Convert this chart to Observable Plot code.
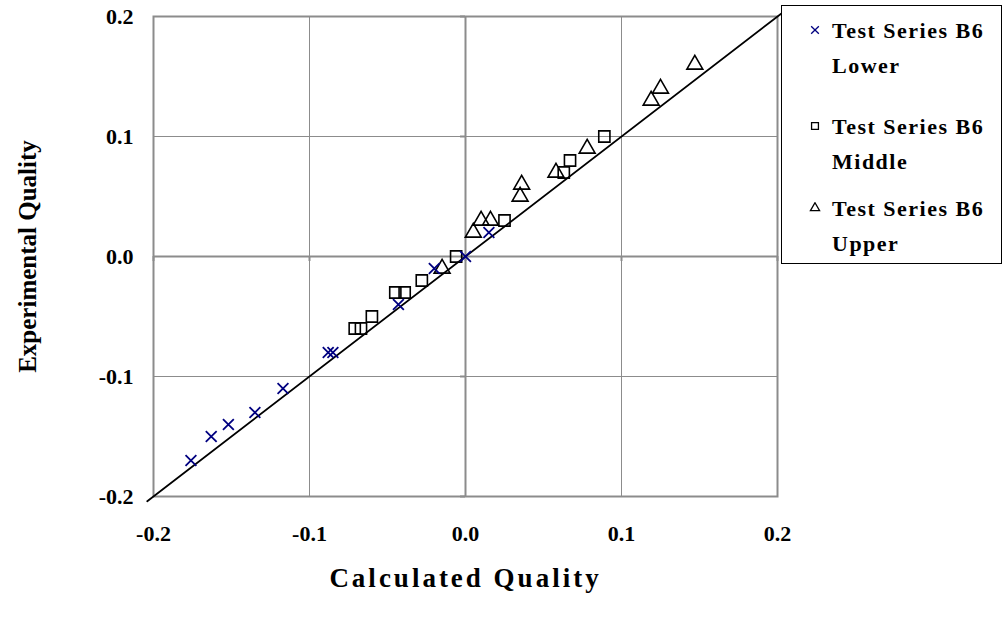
<!DOCTYPE html>
<html>
<head>
<meta charset="utf-8">
<script src="https://cdn.jsdelivr.net/npm/d3@7"></script>
<script src="https://cdn.jsdelivr.net/npm/@observablehq/plot@0.6"></script>
<style>
  html, body { margin: 0; padding: 0; background: #fff; }
  #wrap { position: relative; width: 1005px; height: 621px; font-family: "Liberation Serif", "Times New Roman", serif; }
  #legend { position: absolute; left: 781px; top: 5px; width: 219px; height: 257px; border: 1.5px solid #000; background: #fff; font-weight: bold; font-size: 22px; letter-spacing: 1.5px; }
  .item { position: absolute; left: 50px; line-height: 35px; white-space: nowrap; }
  .item svg { position: absolute; left: -23px; top: 11px; }
</style>
</head>
<body>
<div id="wrap"></div>
<script>
// ---- data ----
const seriesNames = ["Test Series B6 Lower", "Test Series B6 Middle", "Test Series B6 Upper"];
const lowerX = [-0.176, -0.163, -0.152, -0.135, -0.117, -0.088, -0.085, -0.043, -0.020, 0.000, 0.015];
const lowerY = [-0.17, -0.15, -0.14, -0.13, -0.11, -0.08, -0.08, -0.04, -0.01, 0.00, 0.02];
const middleX = [-0.071, -0.067, -0.060, -0.045, -0.039, -0.028, -0.006, 0.025, 0.063, 0.067, 0.089];
const middleY = [-0.06, -0.06, -0.05, -0.03, -0.03, -0.02, 0.00, 0.03, 0.07, 0.08, 0.10];
const upperX = [-0.015, 0.005, 0.010, 0.016, 0.035, 0.036, 0.058, 0.078, 0.119, 0.125, 0.147];
const upperY = [-0.01, 0.02, 0.03, 0.03, 0.05, 0.06, 0.07, 0.09, 0.13, 0.14, 0.16];
const lineX = [-0.204, 0.204];
const lineY = [-0.204, 0.204];
const tickValues = [-0.2, -0.1, 0.0, 0.1, 0.2];
const gridValues = [-0.1, 0.1];
const xTitle = "Calculated Quality";
const yTitle = "Experimental Quality";

const rows = (xs, ys) => xs.map((x, i) => ({x, y: ys[i]}));
const lower = rows(lowerX, lowerY);
const middle = rows(middleX, middleY);
const upper = rows(upperX, upperY);
const diag = rows(lineX, lineY);
const fmt = d => d.toFixed(1);

const chart = Plot.plot({
  width: 1005,
  height: 621,
  marginLeft: 153,
  marginRight: 228,
  marginTop: 16,
  marginBottom: 125,
  style: {fontFamily: '"Liberation Serif", "Times New Roman", serif', fontSize: "22px", fontWeight: "bold", background: "#fff", overflow: "visible", color: "#000"},
  x: {domain: [-0.2, 0.2]},
  y: {domain: [-0.2, 0.2]},
  marks: [
    Plot.ruleX(gridValues, {stroke: "#8c8c8c", strokeWidth: 1}),
    Plot.ruleY(gridValues, {stroke: "#8c8c8c", strokeWidth: 1}),
    Plot.ruleX([0], {stroke: "#8c8c8c", strokeWidth: 2}),
    Plot.ruleY([0], {stroke: "#8c8c8c", strokeWidth: 2}),
    Plot.ruleY(tickValues, {x1: 0, x2: 0, insetLeft: -5, stroke: "#8c8c8c", strokeWidth: 2}),
    Plot.ruleX(tickValues, {y1: 0, y2: 0, insetBottom: -5, stroke: "#8c8c8c", strokeWidth: 2}),
    Plot.frame({stroke: "#8c8c8c", strokeWidth: 2}),
    Plot.axisX(tickValues, {tickSize: 0, tickPadding: 29, tickFormat: fmt, fontSize: 22, fontWeight: "bold", fill: "#000", label: null}),
    Plot.axisY(tickValues, {tickSize: 0, tickPadding: 20, tickFormat: fmt, fontSize: 22, fontWeight: "bold", fill: "#000", label: null}),
    Plot.text([xTitle], {frameAnchor: "bottom", textAnchor: "middle", dy: 90, fontSize: 27, fontWeight: "bold", fill: "#000"}),
    Plot.text([yTitle], {frameAnchor: "left", textAnchor: "middle", dx: -126, rotate: -90, fontSize: 25, fontWeight: "bold", fill: "#000"}),
    Plot.line(diag, {x: "x", y: "y", stroke: "#000", strokeWidth: 1.8, clip: false}),
    Plot.dot(middle, {x: "x", y: "y", symbol: "square", r: 6.3, stroke: "#000", strokeWidth: 1.6, fill: "none"}),
    Plot.dot(upper, {x: "x", y: "y", symbol: "triangle", r: 5.9, stroke: "#000", strokeWidth: 1.6, fill: "none"}),
    Plot.dot(lower, {x: "x", y: "y", symbol: "times", r: 5, stroke: "#000080", strokeWidth: 1.8})
  ]
});
d3.select(chart).selectAll("text")
  .filter(function() { return this.textContent === xTitle; })
  .style("letter-spacing", "3px");
const wrap = document.getElementById("wrap");
wrap.appendChild(chart);

// legend
const legend = document.createElement("div");
legend.id = "legend";
const symbols = [
  {sym: d3.symbolTimes, size: 40, color: "#000080"},
  {sym: d3.symbolSquare2, size: 60, color: "#000"},
  {sym: d3.symbolTriangle2, size: 60, color: "#000"}
];
const tops = [7, 103, 185];
seriesNames.forEach((name, i) => {
  const parts = name.split(" ");
  const last = parts.pop();
  const item = document.createElement("div");
  item.className = "item";
  item.style.top = tops[i] + "px";
  const s = symbols[i];
  item.innerHTML = `<svg width="12" height="12" viewBox="-6 -6 12 12"><path d="${d3.symbol(s.sym, s.size)()}" fill="none" stroke="${s.color}" stroke-width="1.3"/></svg>${parts.join(" ")}<br>${last}`;
  legend.appendChild(item);
});
wrap.appendChild(legend);
</script>
</body>
</html>
